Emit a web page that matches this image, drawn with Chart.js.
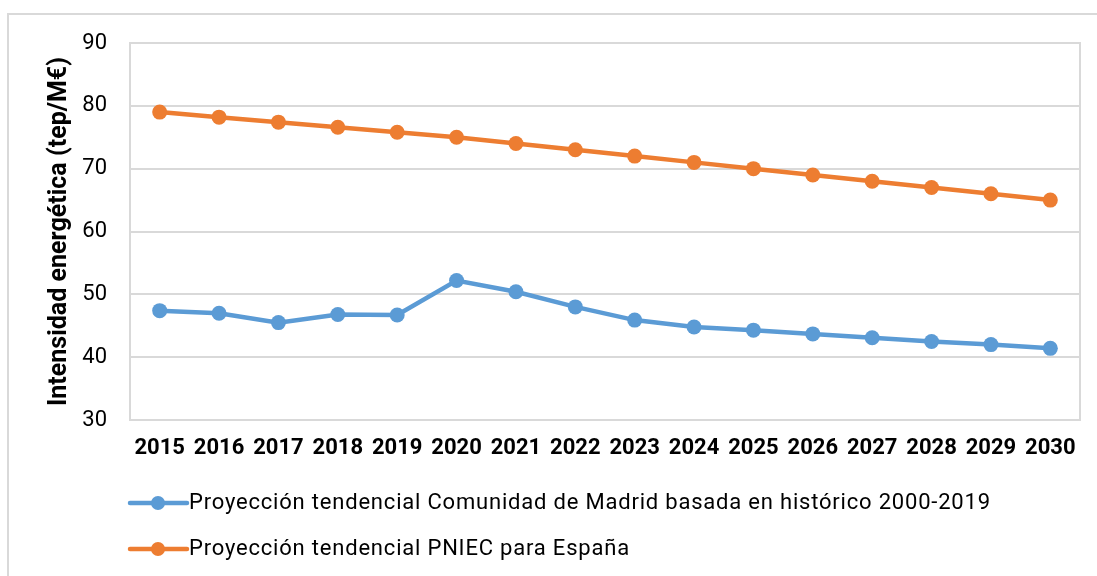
<!DOCTYPE html>
<html>
<head>
<meta charset="utf-8">
<script src="https://cdn.jsdelivr.net/npm/chart.js@4"></script>
<style>
  html, body { margin: 0; padding: 0; background: #fff; }
  #wrap { width: 1097px; height: 576px; position: relative; }
</style>
</head>
<body>
<div id="wrap"><canvas id="grafico"></canvas></div>
<script>
// datos
const anios = ['2015', '2016', '2017', '2018', '2019', '2020', '2021', '2022',
               '2023', '2024', '2025', '2026', '2027', '2028', '2029', '2030'];
const madrid = [47.4, 47.0, 45.5, 46.8, 46.7, 52.2, 50.4, 48.0,
                45.9, 44.8, 44.3, 43.7, 43.1, 42.5, 42.0, 41.4];
const pniec = [79.0, 78.2, 77.4, 76.6, 75.8, 75.0, 74.0, 73.0,
               72.0, 71.0, 70.0, 69.0, 68.0, 67.0, 66.0, 65.0];
const nombreMadrid = 'Proyección tendencial Comunidad de Madrid basada en histórico 2000-2019';
const nombrePniec = 'Proyección tendencial PNIEC para España';
const ticksY = [30, 40, 50, 60, 70, 80, 90];

const AZUL = '#5b9bd5';
const NARANJA = '#ed7d31';
const GRIS = '#d9d9d9';
const FUENTE = 'Roboto';

// marco exterior y borde del area de trazado
const marcoPlugin = {
    id: 'marco',
    beforeDraw(chart) {
        const ctx = chart.ctx;
        ctx.save();
        ctx.strokeStyle = GRIS;
        ctx.lineWidth = 2;
        ctx.beginPath();
        ctx.moveTo(8, chart.height + 2);
        ctx.lineTo(8, 14);
        ctx.lineTo(chart.width + 2, 14);
        ctx.stroke();
        ctx.restore();
    },
    beforeDatasetsDraw(chart) {
        const { left, right, top, bottom } = chart.chartArea;
        const ctx = chart.ctx;
        ctx.save();
        ctx.strokeStyle = GRIS;
        ctx.lineWidth = 2;
        ctx.strokeRect(left, top, right - left, bottom - top);
        ctx.restore();
    }
};

// leyenda con linea y punto, alineada a la izquierda
const leyendaPlugin = {
    id: 'leyendaLinea',
    afterDraw(chart) {
        const ctx = chart.ctx;
        const x0 = 130;
        const filas = [503, 549];
        ctx.save();
        chart.data.datasets.forEach((ds, i) => {
            const y = filas[i];
            ctx.strokeStyle = ds.borderColor;
            ctx.lineWidth = 4.5;
            ctx.lineCap = 'round';
            ctx.beginPath();
            ctx.moveTo(x0, y);
            ctx.lineTo(x0 + 57, y);
            ctx.stroke();
            ctx.fillStyle = ds.borderColor;
            ctx.beginPath();
            ctx.arc(x0 + 28, y, 7, 0, Math.PI * 2);
            ctx.fill();
            ctx.fillStyle = '#000';
            ctx.font = '22px ' + FUENTE;
            ctx.letterSpacing = '0.8px';
            ctx.textBaseline = 'middle';
            ctx.textAlign = 'left';
            ctx.fillText(ds.label, x0 + 59, y);
        });
        ctx.restore();
    }
};

const serie = (label, data, color) => ({
    label,
    data,
    borderColor: color,
    backgroundColor: color,
    borderWidth: 4.5,
    pointRadius: 7.5,
    pointHoverRadius: 7.5,
    pointBorderWidth: 0,
    tension: 0
});

new Chart(document.getElementById('grafico'), {
    type: 'line',
    data: {
        labels: anios,
        datasets: [
            serie(nombreMadrid, madrid, AZUL),
            serie(nombrePniec, pniec, NARANJA)
        ]
    },
    options: {
        responsive: true,
        maintainAspectRatio: false,
        animation: false,
        layout: { padding: { left: 20, right: 17, top: 43, bottom: 106 } },
        plugins: {
            legend: { display: false },
            tooltip: { enabled: false }
        },
        scales: {
            x: {
                offset: true,
                grid: { display: false, drawTicks: false },
                border: { display: false },
                ticks: {
                    color: '#000',
                    padding: 15,
                    maxRotation: 0,
                    font: { family: FUENTE, size: 22, weight: 'bold' }
                },
                afterFit(scale) { scale.height = 50; }
            },
            y: {
                min: 30,
                max: 90,
                afterBuildTicks(scale) { scale.ticks = ticksY.map(v => ({ value: v })); },
                grid: { color: GRIS, lineWidth: 2, drawTicks: false },
                border: { display: false },
                ticks: {
                    color: '#000',
                    padding: 23,
                    font: { family: FUENTE, size: 22 }
                },
                title: {
                    display: true,
                    text: 'Intensidad energética (tep/M€)',
                    color: '#000',
                    padding: { top: 25 },
                    font: { family: FUENTE, size: 25, weight: 'bold' }
                },
                afterFit(scale) { scale.width = 110; }
            }
        }
    },
    plugins: [marcoPlugin, leyendaPlugin]
});
</script>
</body>
</html>
